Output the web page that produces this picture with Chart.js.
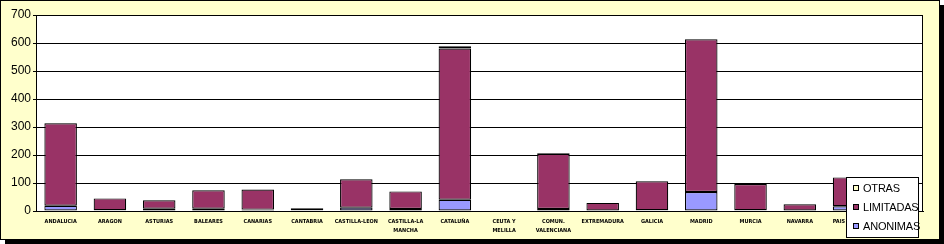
<!DOCTYPE html>
<html>
<head>
<meta charset="utf-8">
<script src="https://cdn.jsdelivr.net/npm/chart.js@4/dist/chart.umd.min.js"></script>
<style>
    html, body { margin: 0; padding: 0; background: #fff; }
    #frame {
        position: absolute; left: 0; top: 0;
        width: 938px; height: 238px;
        border: 1px solid #000;
        background: #FFFFCC;
        box-shadow: 5px 5px 0 #000;
    }
    #chartCanvas { position: absolute; left: 0; top: 0; }
    #legend {
        position: absolute; left: 846px; top: 177px;
        width: 71px; height: 59px;
        background: #fff; border: 1px solid #000;
        font: 11px "Liberation Sans", Arial, sans-serif;
        letter-spacing: -0.2px;
        color: #000;
    }
    #legend .item { position: absolute; left: 6px; height: 14px; line-height: 14px; white-space: nowrap; }
    #legend .box {
        display: inline-block; width: 4px; height: 4px;
        border: 1px solid #000; margin-right: 4px; vertical-align: 1px;
    }
</style>
</head>
<body>
<div id="frame"></div>
<canvas id="chartCanvas" width="944" height="244"></canvas>
<div id="legend"></div>
<script>
// Sociedades por comunidad autonoma

const regions = [
    'ANDALUCIA', 'ARAGON', 'ASTURIAS', 'BALEARES', 'CANARIAS', 'CANTABRIA',
    'CASTILLA-LEON', ['CASTILLA-LA', 'MANCHA'], 'CATALUÑA', ['CEUTA Y', 'MELILLA'],
    ['COMUN.', 'VALENCIANA'], 'EXTREMADURA', 'GALICIA', 'MADRID', 'MURCIA',
    'NAVARRA', 'PAIS VASCO', 'LA RIOJA'
];
const anonimas  = [19, 3, 8, 8, 5, 3, 12, 7, 40, 0, 7, 2, 3, 68, 3, 2, 17, 1];
const limitadas = [294, 42, 30, 66, 72, 7, 101, 63, 540, 2, 197, 27, 103, 545, 93, 22, 103, 7];
const otras     = [1, 0, 0, 0, 0, 0, 0, 0, 8, 0, 2, 0, 0, 0, 2, 0, 0, 0];
const yTicks    = [0, 100, 200, 300, 400, 500, 600, 700];

const seriesColors = { anonimas: '#9999FF', limitadas: '#993366', otras: '#FFFFCC' };

const plotArea = {
    id: 'plotArea',
    beforeDraw(chart) {
        const { ctx, chartArea: a } = chart;
        ctx.save();
        ctx.fillStyle = '#fff';
        ctx.fillRect(a.left, a.top, a.right - a.left, a.bottom - a.top);
        ctx.restore();
    },
    beforeDatasetsDraw(chart) {
        const { ctx, chartArea: a } = chart;
        ctx.save();
        ctx.strokeStyle = '#000';
        ctx.lineWidth = 1;
        ctx.strokeRect(Math.round(a.left) + 0.5, Math.round(a.top) + 0.5,
            Math.round(a.right - a.left) - 1, Math.round(a.bottom - a.top));
        ctx.restore();
    }
};

function makeDataset(label, data, color) {
    return {
        label: label,
        data: data,
        backgroundColor: color,
        borderColor: '#000',
        borderWidth: 1.2,
        borderSkipped: false,
        categoryPercentage: 1,
        barPercentage: 0.66
    };
}

const chart = new Chart(document.getElementById('chartCanvas'), {
    type: 'bar',
    data: {
        labels: regions,
        datasets: [
            makeDataset('ANONIMAS', anonimas, seriesColors.anonimas),
            makeDataset('LIMITADAS', limitadas, seriesColors.limitadas),
            makeDataset('OTRAS', otras, seriesColors.otras)
        ]
    },
    options: {
        responsive: false,
        animation: false,
        layout: { padding: { top: 15, right: 21, left: 0, bottom: 0 } },
        plugins: {
            legend: { display: false },
            tooltip: { enabled: false }
        },
        scales: {
            x: {
                stacked: true,
                grid: { display: false, drawTicks: false, tickLength: 0 },
                border: { color: '#000', width: 1 },
                ticks: {
                    color: '#000',
                    autoSkip: false,
                    maxRotation: 0,
                    padding: 6,
                    font: { family: 'DejaVu Sans Condensed', size: 5.5, weight: 'bold', lineHeight: 1.6 }
                },
                afterFit(axis) { axis.height = 33; }
            },
            y: {
                stacked: true,
                min: 0,
                max: 700,
                afterBuildTicks(axis) { axis.ticks = yTicks.map(v => ({ value: v })); },
                grid: { color: '#000', lineWidth: 1, tickLength: 3 },
                border: { color: '#000', width: 1 },
                ticks: {
                    color: '#000',
                    padding: 2,
                    font: { family: 'Liberation Sans', size: 12 }
                },
                afterFit(axis) { axis.width = 36; }
            }
        }
    },
    plugins: [plotArea]
});

// legend box drawn over the plot, same order as the original (top series first)
const legendEl = document.getElementById('legend');
chart.data.datasets.slice().reverse().forEach((ds, i) => {
    const item = document.createElement('div');
    item.className = 'item';
    item.style.top = (3 + i * 19) + 'px';
    item.innerHTML = `<span class="box" style="background:${ds.backgroundColor}"></span>${ds.label}`;
    legendEl.appendChild(item);
});
</script>
</body>
</html>
